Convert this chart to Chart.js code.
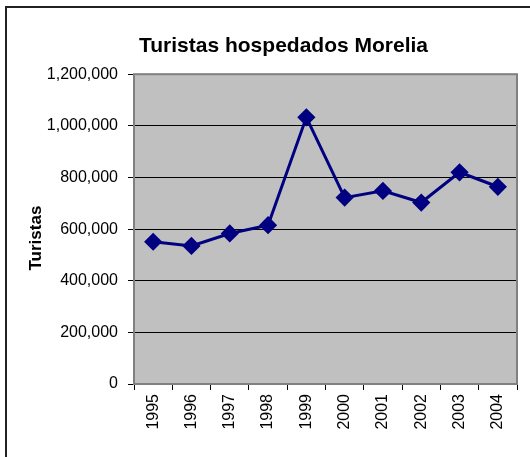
<!DOCTYPE html>
<html>
<head>
<meta charset="utf-8">
<script src="https://cdn.jsdelivr.net/npm/chart.js@4.4.0/dist/chart.umd.min.js"></script>
<style>
  html, body { margin: 0; padding: 0; background: #fff; overflow: hidden; }
  #wrap { position: relative; width: 530px; height: 457px; }
  #frame { position: absolute; left: 5px; top: 6px; width: 560px; height: 480px; border: 2px solid #222; box-sizing: border-box; }
  canvas { position: absolute; left: 0; top: 0; }
</style>
</head>
<body>
<div id="wrap">
  <div id="frame"></div>
  <canvas id="turistasChart" width="530" height="457"></canvas>
</div>
<script>
// datos
const anios = ['1995', '1996', '1997', '1998', '1999', '2000', '2001', '2002', '2003', '2004'];
const turistas = [551000, 535000, 583000, 615000, 1033000, 722000, 748000, 703000, 820000, 764000];
const yTicks = [0, 200000, 400000, 600000, 800000, 1000000, 1200000];

const fuente = '"Liberation Sans", Arial, sans-serif';

// fondo gris y marco del area de trazado
const plotArea = {
    id: 'plotArea',
    afterLayout(chart) {
        // el eje y ocupa el margen izquierdo para que el titulo quede centrado como en el original
        const y = chart.scales.y;
        y.left = 26;
        y.width = y.right - y.left;
        // titulo del eje un poco mas abajo
        y.bottom += 18;
    },
    beforeDraw(chart) {
        const a = chart.chartArea;
        const c = chart.ctx;
        c.save();
        c.fillStyle = '#c0c0c0';
        c.fillRect(a.left, a.top, a.right - a.left, a.bottom - a.top);
        c.restore();
    },
    beforeDatasetsDraw(chart) {
        const a = chart.chartArea;
        const c = chart.ctx;
        c.save();
        c.strokeStyle = '#808080';
        c.lineWidth = 2;
        c.strokeRect(a.left, a.top, a.right - a.left, a.bottom - a.top);
        c.restore();
    }
};

new Chart(document.getElementById('turistasChart'), {
    type: 'line',
    data: {
        labels: anios,
        datasets: [{
            label: 'Turistas',
            data: turistas,
            borderColor: '#000080',
            backgroundColor: '#000080',
            borderWidth: 3,
            pointStyle: 'rectRot',
            pointRadius: 7,
            pointHoverRadius: 7,
            tension: 0,
            fill: false
        }]
    },
    options: {
        responsive: false,
        animation: false,
        devicePixelRatio: 1,
        layout: { padding: { left: 50, right: 13, top: 0, bottom: 0 } },
        plugins: {
            legend: { display: false },
            tooltip: { enabled: false },
            title: {
                display: true,
                text: 'Turistas hospedados Morelia',
                color: '#000',
                font: { family: fuente, size: 21, weight: 'bold' },
                padding: { top: 34, bottom: 15 }
            }
        },
        scales: {
            x: {
                offset: true,
                afterFit: s => { s.height = 73; },
                grid: {
                    offset: true,
                    drawOnChartArea: false,
                    color: '#000',
                    tickLength: 6
                },
                border: { color: '#808080', width: 2 },
                ticks: {
                    autoSkip: false,
                    minRotation: 90,
                    maxRotation: 90,
                    padding: 4,
                    color: '#000',
                    font: { family: fuente, size: 16 }
                }
            },
            y: {
                min: 0,
                max: 1200000,
                afterFit: s => { s.width = 84; },
                afterBuildTicks: s => { s.ticks = yTicks.map(v => ({ value: v })); },
                grid: { color: '#000', tickLength: 6 },
                border: { display: false },
                title: {
                    display: true,
                    text: 'Turistas',
                    color: '#000',
                    padding: 0,
                    font: { family: fuente, size: 17, weight: 'bold' }
                },
                ticks: {
                    padding: 10,
                    color: '#000',
                    font: { family: fuente, size: 16 },
                    callback: v => v.toLocaleString('en-US')
                }
            }
        }
    },
    plugins: [plotArea]
});
</script>
</body>
</html>
